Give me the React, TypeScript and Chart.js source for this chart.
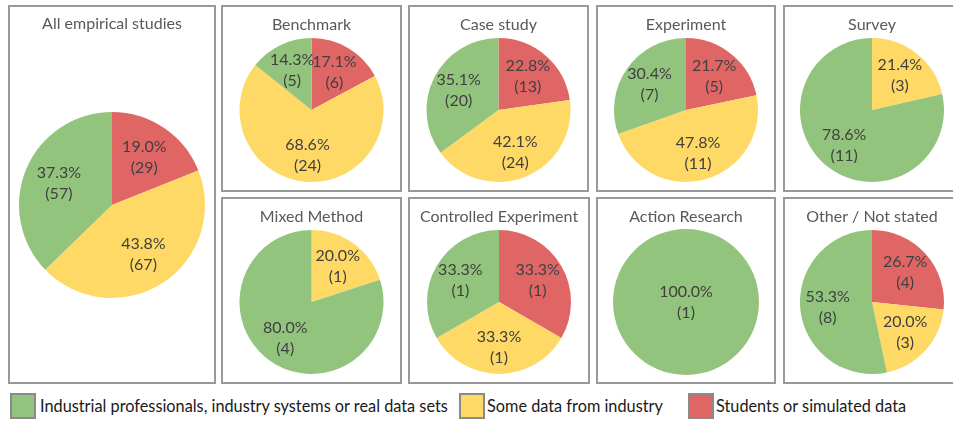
import React, { useEffect, useRef } from "react";
import { Chart, registerables } from "chart.js";

Chart.register(...registerables);

// ---- data ----
const categories = [
  "Students or simulated data",
  "Some data from industry",
  "Industrial professionals, industry systems or real data sets",
];
const panelTitles = [
  "All empirical studies",
  "Benchmark",
  "Case study",
  "Experiment",
  "Survey",
  "Mixed Method",
  "Controlled Experiment",
  "Action Research",
  "Other / Not stated",
];
const studentsValues = [29, 6, 13, 5, 0, 0, 1, 0, 4];
const someIndustryValues = [67, 24, 24, 11, 3, 1, 1, 0, 3];
const industrialValues = [57, 5, 20, 7, 11, 4, 1, 1, 8];
const legendOrder = [2, 1, 0];

// ---- styles ----
const sliceColors = ["#E06666", "#FFD966", "#93C47D"];
const FONT = "Lato, 'Open Sans', sans-serif";
const TITLE_SIZE = 16;
const LABEL_SIZE = 16;

// layout: [left, top, width, height, titleY, pieCY, radius] in page px
const layouts = [
  [8, 5, 208, 379, 24, 205, 93],
  [221, 5, 181, 187, 25, 110, 72],
  [408, 5, 181, 187, 25, 110, 72],
  [596, 5, 180, 187, 25, 110, 72],
  [783, 5, 178, 187, 25, 110, 72],
  [221, 197, 181, 187, 217, 302, 72],
  [408, 197, 182, 187, 217, 302, 72],
  [596, 197, 180, 187, 217, 302, 73],
  [783, 197, 178, 187, 217, 302, 72],
];
const BORDER = 2;

const sliceLabelPlugin = {
  id: "sliceLabels",
  afterDatasetsDraw(chart: any) {
    const ctx = chart.ctx;
    const meta = chart.getDatasetMeta(0);
    const data: number[] = chart.data.datasets[0].data;
    const total = data.reduce((a, b) => a + b, 0);
    ctx.save();
    ctx.fillStyle = "#404040";
    ctx.font = `${LABEL_SIZE}px ${FONT}`;
    ctx.textAlign = "center";
    ctx.textBaseline = "middle";
    meta.data.forEach((arc: any, i: number) => {
      const v = data[i];
      if (!v) return;
      const p = arc.getProps(["x", "y", "startAngle", "endAngle", "outerRadius"], true);
      const mid = (p.startAngle + p.endAngle) / 2;
      const frac = v / total;
      const d = frac > 0.999 ? 0 : p.outerRadius * 0.62;
      const x = p.x + Math.cos(mid) * d;
      const y = p.y + Math.sin(mid) * d;
      ctx.fillText(`${((v / total) * 100).toFixed(1)}%`, x, y - 10);
      ctx.fillText(`(${v})`, x, y + 11);
    });
    ctx.restore();
  },
};

function PiePanel({ index }: { index: number }) {
  const ref = useRef<HTMLCanvasElement | null>(null);
  const [left, top, w, h, titleY, cyPage, r] = layouts[index];
  const cw = w - 2 * BORDER;
  const ch = h - 2 * BORDER;
  useEffect(() => {
    if (!ref.current) return;
    const oy = top + BORDER;
    const T = titleY - oy;
    const cy = cyPage - oy;
    const lineH = TITLE_SIZE * 1.2;
    const padTop = T - lineH / 2;
    const padBottom = cy - r - T - lineH / 2;
    const layoutBottom = ch - (cy + r);
    const chart = new Chart(ref.current, {
      type: "pie",
      data: {
        labels: categories,
        datasets: [
          {
            data: [studentsValues[index], someIndustryValues[index], industrialValues[index]],
            backgroundColor: sliceColors,
            borderWidth: 0,
          },
        ],
      },
      options: {
        animation: false,
        responsive: false,
        events: [],
        layout: { padding: { left: 0, right: 0, top: 0, bottom: layoutBottom } },
        plugins: {
          legend: { display: false },
          tooltip: { enabled: false },
          title: {
            display: true,
            text: panelTitles[index],
            color: "#595959",
            font: { family: FONT, size: TITLE_SIZE, weight: "normal", lineHeight: 1.2 },
            padding: { top: padTop, bottom: padBottom },
          },
        },
      } as any,
      plugins: [sliceLabelPlugin],
    });
    return () => chart.destroy();
  }, [index]);
  return (
    <div
      style={{
        position: "absolute",
        left,
        top,
        width: w,
        height: h,
        boxSizing: "border-box",
        border: `${BORDER}px solid #9a9a9a`,
        background: "#fff",
      }}
    >
      <canvas ref={ref} width={cw} height={ch} style={{ display: "block", width: cw, height: ch }} />
    </div>
  );
}

const legendPos = [
  [10, 40],
  [459, 487],
  [688, 716],
];

export default function App() {
  return (
    <div
      style={{
        position: "absolute",
        left: 0,
        top: 0,
        width: 953,
        height: 421,
        overflow: "hidden",
        background: "#fff",
        fontFamily: FONT,
      }}
    >
      {panelTitles.map((_, i) => (
        <PiePanel key={i} index={i} />
      ))}
      {legendOrder.map((ci, k) => (
        <React.Fragment key={ci}>
          <div
            style={{
              position: "absolute",
              left: legendPos[k][0],
              top: 393,
              width: 26,
              height: 26,
              boxSizing: "border-box",
              border: "2px solid #8a8a8a",
              background: sliceColors[ci],
            }}
          />
          <div
            style={{
              position: "absolute",
              left: legendPos[k][1],
              top: 395,
              fontSize: 16.3,
              lineHeight: "22px",
              color: "#1a1a1a",
              whiteSpace: "nowrap",
            }}
          >
            {categories[ci]}
          </div>
        </React.Fragment>
      ))}
    </div>
  );
}
